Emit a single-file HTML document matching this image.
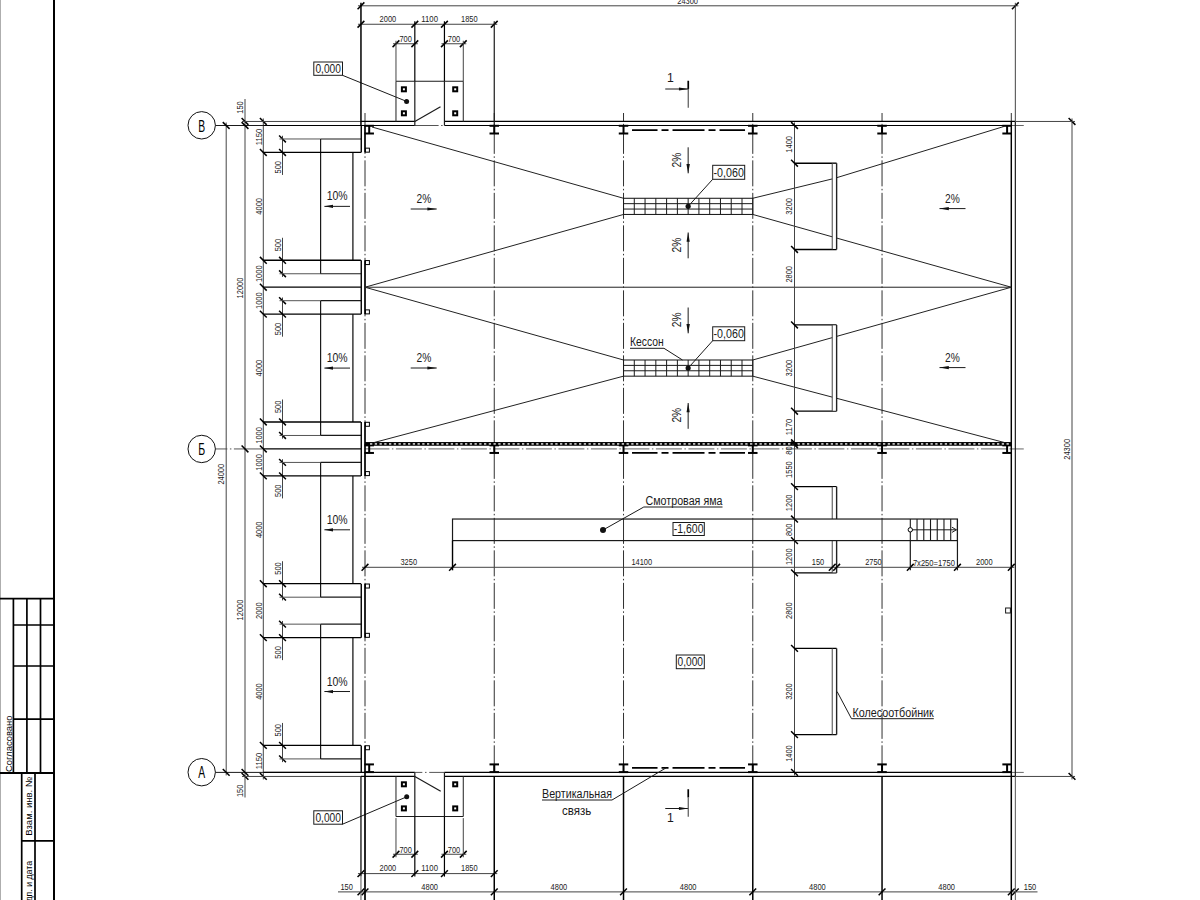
<!DOCTYPE html>
<html lang="ru">
<head>
<meta charset="utf-8">
<title>План</title>
<style>
html,body{margin:0;padding:0;background:#fff;}
body{width:1200px;height:900px;overflow:hidden;}
svg{display:block;font-family:"Liberation Sans",sans-serif;}
</style>
</head>
<body>
<svg width="1200" height="900" viewBox="0 0 1200 900">
<rect x="0" y="0" width="1200" height="900" fill="#fff"/>
<line x1="0" y1="0" x2="0" y2="900" stroke="#777" stroke-width="1.2"/>
<line x1="54" y1="0" x2="54" y2="900" stroke="#000" stroke-width="2"/>
<line x1="0" y1="598.6" x2="54" y2="598.6" stroke="#000" stroke-width="1.8"/>
<line x1="13.4" y1="598.6" x2="13.4" y2="773" stroke="#000" stroke-width="1.7"/>
<line x1="26.9" y1="598.6" x2="26.9" y2="773" stroke="#000" stroke-width="1.7"/>
<line x1="40.5" y1="598.6" x2="40.5" y2="773" stroke="#000" stroke-width="1.7"/>
<line x1="13.3" y1="625" x2="54" y2="625" stroke="#000" stroke-width="1.7"/>
<line x1="13.3" y1="666" x2="54" y2="666" stroke="#000" stroke-width="1.7"/>
<line x1="13.3" y1="719.2" x2="54" y2="719.2" stroke="#000" stroke-width="1.7"/>
<line x1="0" y1="773" x2="54" y2="773" stroke="#000" stroke-width="2"/>
<line x1="21.7" y1="773" x2="21.7" y2="900" stroke="#000" stroke-width="1.7"/>
<line x1="35" y1="773" x2="35" y2="900" stroke="#000" stroke-width="1.7"/>
<line x1="21.7" y1="840.8" x2="54" y2="840.8" stroke="#000" stroke-width="1.7"/>
<text x="11.6" y="772" font-size="8.9" text-anchor="start" fill="#000" transform="rotate(-90 11.6 772)" textLength="56.5" lengthAdjust="spacingAndGlyphs">Согласовано</text>
<text x="32.3" y="835.8" font-size="9" text-anchor="start" fill="#000" transform="rotate(-90 32.3 835.8)" textLength="58.7" lengthAdjust="spacingAndGlyphs">Взам. инв. №</text>
<text x="32.3" y="912.4" font-size="9" text-anchor="start" fill="#000" transform="rotate(-90 32.3 912.4)" textLength="51.4" lengthAdjust="spacingAndGlyphs">Подп. и дата</text>
<line x1="365" y1="113" x2="365" y2="125.5" stroke="#303030" stroke-width="1"/>
<line x1="365" y1="152.45" x2="365" y2="260.27" stroke="#303030" stroke-width="1" stroke-dasharray="26 2.5 1.5 2.5" stroke-dashoffset="24.6"/>
<line x1="365" y1="314.18" x2="365" y2="421.99" stroke="#303030" stroke-width="1" stroke-dasharray="26 2.5 1.5 2.5" stroke-dashoffset="23.83"/>
<line x1="365" y1="475.9" x2="365" y2="583.72" stroke="#303030" stroke-width="1" stroke-dasharray="26 2.5 1.5 2.5" stroke-dashoffset="23.05"/>
<line x1="365" y1="637.63" x2="365" y2="745.44" stroke="#303030" stroke-width="1" stroke-dasharray="26 2.5 1.5 2.5" stroke-dashoffset="22.28"/>
<line x1="494.26" y1="113" x2="494.26" y2="772.4" stroke="#303030" stroke-width="1" stroke-dasharray="26 2.5 1.5 2.5" stroke-dashoffset="17.65"/>
<line x1="623.52" y1="113" x2="623.52" y2="772.4" stroke="#303030" stroke-width="1" stroke-dasharray="26 2.5 1.5 2.5" stroke-dashoffset="17.65"/>
<line x1="752.78" y1="113" x2="752.78" y2="772.4" stroke="#303030" stroke-width="1" stroke-dasharray="26 2.5 1.5 2.5" stroke-dashoffset="17.65"/>
<line x1="882.04" y1="113" x2="882.04" y2="772.4" stroke="#303030" stroke-width="1" stroke-dasharray="26 2.5 1.5 2.5" stroke-dashoffset="17.65"/>
<line x1="1011.3" y1="113" x2="1011.3" y2="121.46" stroke="#303030" stroke-width="1"/>
<line x1="215.4" y1="448.95" x2="262" y2="448.95" stroke="#555" stroke-width="1" stroke-dasharray="12 2.5 1.5 2.5 40"/>
<line x1="365" y1="448.95" x2="1011.3" y2="448.95" stroke="#808080" stroke-width="1.25" stroke-dasharray="26 2.5 1.5 2.5" stroke-dashoffset="1.6"/>
<line x1="1011.3" y1="448.95" x2="1023.75" y2="448.95" stroke="#666" stroke-width="1"/>
<line x1="1011.3" y1="125.5" x2="1023.75" y2="125.5" stroke="#666" stroke-width="1"/>
<line x1="1011.3" y1="772.4" x2="1023.75" y2="772.4" stroke="#666" stroke-width="1"/>
<circle cx="201.7" cy="125.3" r="13.7" fill="#fff" stroke="#111" stroke-width="1"/>
<text x="201.7" y="131.5" font-size="17.3" text-anchor="middle" fill="#000" textLength="6.9" lengthAdjust="spacingAndGlyphs">В</text>
<circle cx="201.7" cy="448.95" r="13.7" fill="#fff" stroke="#111" stroke-width="1"/>
<text x="201.7" y="455.15" font-size="17.3" text-anchor="middle" fill="#000" textLength="6.9" lengthAdjust="spacingAndGlyphs">Б</text>
<circle cx="201.7" cy="772.2" r="13.7" fill="#fff" stroke="#111" stroke-width="1"/>
<text x="201.7" y="778.4" font-size="17.3" text-anchor="middle" fill="#000" textLength="6.9" lengthAdjust="spacingAndGlyphs">А</text>
<line x1="215.4" y1="125.5" x2="360.96" y2="125.5" stroke="#1a1a1a" stroke-width="1"/>
<line x1="215.4" y1="772.4" x2="360.96" y2="772.4" stroke="#1a1a1a" stroke-width="1"/>
<line x1="226.2" y1="122.5" x2="226.2" y2="775.4" stroke="#444" stroke-width="1"/>
<line x1="222.8" y1="122.1" x2="229.6" y2="128.9" stroke="#000" stroke-width="1.5"/>
<line x1="222.8" y1="769" x2="229.6" y2="775.8" stroke="#000" stroke-width="1.5"/>
<text x="224.5" y="474.2" font-size="9.4" text-anchor="middle" fill="#1a1a1a" transform="rotate(-90 224.5 474.2)" textLength="20.75" lengthAdjust="spacingAndGlyphs">24000</text>
<line x1="245" y1="99" x2="245" y2="797.5" stroke="#444" stroke-width="1"/>
<line x1="241.6" y1="118.06" x2="248.4" y2="124.86" stroke="#000" stroke-width="1.5"/>
<line x1="241.6" y1="122.1" x2="248.4" y2="128.9" stroke="#000" stroke-width="1.5"/>
<line x1="241.6" y1="445.55" x2="248.4" y2="452.35" stroke="#000" stroke-width="1.5"/>
<line x1="241.6" y1="769" x2="248.4" y2="775.8" stroke="#000" stroke-width="1.5"/>
<line x1="241.6" y1="773.04" x2="248.4" y2="779.84" stroke="#000" stroke-width="1.5"/>
<text x="243.3" y="288" font-size="9.4" text-anchor="middle" fill="#1a1a1a" transform="rotate(-90 243.3 288)" textLength="20.75" lengthAdjust="spacingAndGlyphs">12000</text>
<text x="243.3" y="610" font-size="9.4" text-anchor="middle" fill="#1a1a1a" transform="rotate(-90 243.3 610)" textLength="20.75" lengthAdjust="spacingAndGlyphs">12000</text>
<text x="243.3" y="107.5" font-size="9.4" text-anchor="middle" fill="#1a1a1a" transform="rotate(-90 243.3 107.5)" textLength="12.45" lengthAdjust="spacingAndGlyphs">150</text>
<text x="243.3" y="790.8" font-size="9.4" text-anchor="middle" fill="#1a1a1a" transform="rotate(-90 243.3 790.8)" textLength="12.45" lengthAdjust="spacingAndGlyphs">150</text>
<line x1="263.3" y1="118.46" x2="263.3" y2="779.44" stroke="#444" stroke-width="1"/>
<line x1="259.9" y1="118.06" x2="266.7" y2="124.86" stroke="#000" stroke-width="1.5"/>
<line x1="259.9" y1="149.05" x2="266.7" y2="155.85" stroke="#000" stroke-width="1.5"/>
<line x1="259.9" y1="256.87" x2="266.7" y2="263.67" stroke="#000" stroke-width="1.5"/>
<line x1="259.9" y1="283.82" x2="266.7" y2="290.62" stroke="#000" stroke-width="1.5"/>
<line x1="259.9" y1="310.78" x2="266.7" y2="317.58" stroke="#000" stroke-width="1.5"/>
<line x1="259.9" y1="418.59" x2="266.7" y2="425.39" stroke="#000" stroke-width="1.5"/>
<line x1="259.9" y1="445.55" x2="266.7" y2="452.35" stroke="#000" stroke-width="1.5"/>
<line x1="259.9" y1="472.5" x2="266.7" y2="479.3" stroke="#000" stroke-width="1.5"/>
<line x1="259.9" y1="580.32" x2="266.7" y2="587.12" stroke="#000" stroke-width="1.5"/>
<line x1="259.9" y1="634.23" x2="266.7" y2="641.03" stroke="#000" stroke-width="1.5"/>
<line x1="259.9" y1="742.04" x2="266.7" y2="748.84" stroke="#000" stroke-width="1.5"/>
<line x1="259.9" y1="773.04" x2="266.7" y2="779.84" stroke="#000" stroke-width="1.5"/>
<text x="261.6" y="136.96" font-size="9.4" text-anchor="middle" fill="#1a1a1a" transform="rotate(-90 261.6 136.96)" textLength="16.6" lengthAdjust="spacingAndGlyphs">1150</text>
<text x="261.6" y="206.36" font-size="9.4" text-anchor="middle" fill="#1a1a1a" transform="rotate(-90 261.6 206.36)" textLength="16.6" lengthAdjust="spacingAndGlyphs">4000</text>
<text x="261.6" y="273.75" font-size="9.4" text-anchor="middle" fill="#1a1a1a" transform="rotate(-90 261.6 273.75)" textLength="16.6" lengthAdjust="spacingAndGlyphs">1000</text>
<text x="261.6" y="300.7" font-size="9.4" text-anchor="middle" fill="#1a1a1a" transform="rotate(-90 261.6 300.7)" textLength="16.6" lengthAdjust="spacingAndGlyphs">1000</text>
<text x="261.6" y="368.09" font-size="9.4" text-anchor="middle" fill="#1a1a1a" transform="rotate(-90 261.6 368.09)" textLength="16.6" lengthAdjust="spacingAndGlyphs">4000</text>
<text x="261.6" y="435.47" font-size="9.4" text-anchor="middle" fill="#1a1a1a" transform="rotate(-90 261.6 435.47)" textLength="16.6" lengthAdjust="spacingAndGlyphs">1000</text>
<text x="261.6" y="462.42" font-size="9.4" text-anchor="middle" fill="#1a1a1a" transform="rotate(-90 261.6 462.42)" textLength="16.6" lengthAdjust="spacingAndGlyphs">1000</text>
<text x="261.6" y="529.81" font-size="9.4" text-anchor="middle" fill="#1a1a1a" transform="rotate(-90 261.6 529.81)" textLength="16.6" lengthAdjust="spacingAndGlyphs">4000</text>
<text x="261.6" y="610.67" font-size="9.4" text-anchor="middle" fill="#1a1a1a" transform="rotate(-90 261.6 610.67)" textLength="16.6" lengthAdjust="spacingAndGlyphs">2000</text>
<text x="261.6" y="691.53" font-size="9.4" text-anchor="middle" fill="#1a1a1a" transform="rotate(-90 261.6 691.53)" textLength="16.6" lengthAdjust="spacingAndGlyphs">4000</text>
<text x="261.6" y="760.94" font-size="9.4" text-anchor="middle" fill="#1a1a1a" transform="rotate(-90 261.6 760.94)" textLength="16.6" lengthAdjust="spacingAndGlyphs">1150</text>
<line x1="242" y1="121.46" x2="360.96" y2="121.46" stroke="#444" stroke-width="1"/>
<line x1="242" y1="776.44" x2="360.96" y2="776.44" stroke="#444" stroke-width="1"/>
<line x1="263.3" y1="125.5" x2="360.96" y2="125.5" stroke="#000" stroke-width="1.2"/>
<line x1="263.3" y1="772.4" x2="360.96" y2="772.4" stroke="#000" stroke-width="1.2"/>
<line x1="263.3" y1="448.95" x2="360.96" y2="448.95" stroke="#000" stroke-width="1.25"/>
<line x1="263.3" y1="287.22" x2="360.96" y2="287.22" stroke="#000" stroke-width="1.25"/>
<line x1="282.5" y1="135.78" x2="282.5" y2="174.95" stroke="#444" stroke-width="1"/>
<line x1="279.1" y1="135.58" x2="285.9" y2="142.38" stroke="#000" stroke-width="1.5"/>
<line x1="279.1" y1="149.05" x2="285.9" y2="155.85" stroke="#000" stroke-width="1.5"/>
<text x="280.8" y="167.25" font-size="9.4" text-anchor="middle" fill="#1a1a1a" transform="rotate(-90 280.8 167.25)" textLength="12.45" lengthAdjust="spacingAndGlyphs">500</text>
<line x1="282.5" y1="237.77" x2="282.5" y2="276.95" stroke="#444" stroke-width="1"/>
<line x1="279.1" y1="256.87" x2="285.9" y2="263.67" stroke="#000" stroke-width="1.5"/>
<line x1="279.1" y1="270.35" x2="285.9" y2="277.15" stroke="#000" stroke-width="1.5"/>
<text x="280.8" y="245.07" font-size="9.4" text-anchor="middle" fill="#1a1a1a" transform="rotate(-90 280.8 245.07)" textLength="12.45" lengthAdjust="spacingAndGlyphs">500</text>
<line x1="282.5" y1="297.5" x2="282.5" y2="336.68" stroke="#444" stroke-width="1"/>
<line x1="279.1" y1="297.3" x2="285.9" y2="304.1" stroke="#000" stroke-width="1.5"/>
<line x1="279.1" y1="310.78" x2="285.9" y2="317.58" stroke="#000" stroke-width="1.5"/>
<text x="280.8" y="328.98" font-size="9.4" text-anchor="middle" fill="#1a1a1a" transform="rotate(-90 280.8 328.98)" textLength="12.45" lengthAdjust="spacingAndGlyphs">500</text>
<line x1="282.5" y1="399.49" x2="282.5" y2="438.67" stroke="#444" stroke-width="1"/>
<line x1="279.1" y1="418.59" x2="285.9" y2="425.39" stroke="#000" stroke-width="1.5"/>
<line x1="279.1" y1="432.07" x2="285.9" y2="438.87" stroke="#000" stroke-width="1.5"/>
<text x="280.8" y="406.79" font-size="9.4" text-anchor="middle" fill="#1a1a1a" transform="rotate(-90 280.8 406.79)" textLength="12.45" lengthAdjust="spacingAndGlyphs">500</text>
<line x1="282.5" y1="459.23" x2="282.5" y2="498.4" stroke="#444" stroke-width="1"/>
<line x1="279.1" y1="459.03" x2="285.9" y2="465.82" stroke="#000" stroke-width="1.5"/>
<line x1="279.1" y1="472.5" x2="285.9" y2="479.3" stroke="#000" stroke-width="1.5"/>
<text x="280.8" y="490.7" font-size="9.4" text-anchor="middle" fill="#1a1a1a" transform="rotate(-90 280.8 490.7)" textLength="12.45" lengthAdjust="spacingAndGlyphs">500</text>
<line x1="282.5" y1="561.22" x2="282.5" y2="600.39" stroke="#444" stroke-width="1"/>
<line x1="279.1" y1="580.32" x2="285.9" y2="587.12" stroke="#000" stroke-width="1.5"/>
<line x1="279.1" y1="593.79" x2="285.9" y2="600.59" stroke="#000" stroke-width="1.5"/>
<text x="280.8" y="568.52" font-size="9.4" text-anchor="middle" fill="#1a1a1a" transform="rotate(-90 280.8 568.52)" textLength="12.45" lengthAdjust="spacingAndGlyphs">500</text>
<line x1="282.5" y1="620.95" x2="282.5" y2="660.13" stroke="#444" stroke-width="1"/>
<line x1="279.1" y1="620.75" x2="285.9" y2="627.55" stroke="#000" stroke-width="1.5"/>
<line x1="279.1" y1="634.23" x2="285.9" y2="641.03" stroke="#000" stroke-width="1.5"/>
<text x="280.8" y="652.43" font-size="9.4" text-anchor="middle" fill="#1a1a1a" transform="rotate(-90 280.8 652.43)" textLength="12.45" lengthAdjust="spacingAndGlyphs">500</text>
<line x1="282.5" y1="722.94" x2="282.5" y2="762.12" stroke="#444" stroke-width="1"/>
<line x1="279.1" y1="742.04" x2="285.9" y2="748.84" stroke="#000" stroke-width="1.5"/>
<line x1="279.1" y1="755.52" x2="285.9" y2="762.32" stroke="#000" stroke-width="1.5"/>
<text x="280.8" y="730.24" font-size="9.4" text-anchor="middle" fill="#1a1a1a" transform="rotate(-90 280.8 730.24)" textLength="12.45" lengthAdjust="spacingAndGlyphs">500</text>
<line x1="279.5" y1="138.98" x2="320.6" y2="138.98" stroke="#555" stroke-width="1"/>
<line x1="279.5" y1="273.75" x2="320.6" y2="273.75" stroke="#555" stroke-width="1"/>
<line x1="320.6" y1="138.98" x2="360.96" y2="138.98" stroke="#1a1a1a" stroke-width="1.2"/>
<line x1="320.6" y1="273.75" x2="360.96" y2="273.75" stroke="#1a1a1a" stroke-width="1.2"/>
<line x1="320.6" y1="138.98" x2="320.6" y2="273.75" stroke="#1a1a1a" stroke-width="1.2"/>
<line x1="352.9" y1="152.45" x2="352.9" y2="260.27" stroke="#1a1a1a" stroke-width="1.3"/>
<line x1="263.3" y1="152.45" x2="360.96" y2="152.45" stroke="#000" stroke-width="1.3"/>
<line x1="263.3" y1="260.27" x2="360.96" y2="260.27" stroke="#000" stroke-width="1.3"/>
<text x="337.2" y="200.36" font-size="12.7" text-anchor="middle" fill="#1a1a1a" textLength="21" lengthAdjust="spacingAndGlyphs">10%</text>
<line x1="324.4" y1="206.36" x2="350" y2="206.36" stroke="#1a1a1a" stroke-width="1"/>
<path d="M324.4 206.36 L333 204.76 L333 207.96 Z" fill="#111"/>
<line x1="279.5" y1="300.7" x2="320.6" y2="300.7" stroke="#555" stroke-width="1"/>
<line x1="279.5" y1="435.47" x2="320.6" y2="435.47" stroke="#555" stroke-width="1"/>
<line x1="320.6" y1="300.7" x2="360.96" y2="300.7" stroke="#1a1a1a" stroke-width="1.2"/>
<line x1="320.6" y1="435.47" x2="360.96" y2="435.47" stroke="#1a1a1a" stroke-width="1.2"/>
<line x1="320.6" y1="300.7" x2="320.6" y2="435.47" stroke="#1a1a1a" stroke-width="1.2"/>
<line x1="352.9" y1="314.18" x2="352.9" y2="421.99" stroke="#1a1a1a" stroke-width="1.3"/>
<line x1="263.3" y1="314.18" x2="360.96" y2="314.18" stroke="#000" stroke-width="1.3"/>
<line x1="263.3" y1="421.99" x2="360.96" y2="421.99" stroke="#000" stroke-width="1.3"/>
<text x="337.2" y="362.09" font-size="12.7" text-anchor="middle" fill="#1a1a1a" textLength="21" lengthAdjust="spacingAndGlyphs">10%</text>
<line x1="324.4" y1="368.09" x2="350" y2="368.09" stroke="#1a1a1a" stroke-width="1"/>
<path d="M324.4 368.09 L333 366.49 L333 369.69 Z" fill="#111"/>
<line x1="279.5" y1="462.43" x2="320.6" y2="462.43" stroke="#555" stroke-width="1"/>
<line x1="279.5" y1="597.19" x2="320.6" y2="597.19" stroke="#555" stroke-width="1"/>
<line x1="320.6" y1="462.43" x2="360.96" y2="462.43" stroke="#1a1a1a" stroke-width="1.2"/>
<line x1="320.6" y1="597.19" x2="360.96" y2="597.19" stroke="#1a1a1a" stroke-width="1.2"/>
<line x1="320.6" y1="462.43" x2="320.6" y2="597.19" stroke="#1a1a1a" stroke-width="1.2"/>
<line x1="352.9" y1="475.9" x2="352.9" y2="583.72" stroke="#1a1a1a" stroke-width="1.3"/>
<line x1="263.3" y1="475.9" x2="360.96" y2="475.9" stroke="#000" stroke-width="1.3"/>
<line x1="263.3" y1="583.72" x2="360.96" y2="583.72" stroke="#000" stroke-width="1.3"/>
<text x="337.2" y="523.81" font-size="12.7" text-anchor="middle" fill="#1a1a1a" textLength="21" lengthAdjust="spacingAndGlyphs">10%</text>
<line x1="324.4" y1="529.81" x2="350" y2="529.81" stroke="#1a1a1a" stroke-width="1"/>
<path d="M324.4 529.81 L333 528.21 L333 531.41 Z" fill="#111"/>
<line x1="279.5" y1="624.15" x2="320.6" y2="624.15" stroke="#555" stroke-width="1"/>
<line x1="279.5" y1="758.92" x2="320.6" y2="758.92" stroke="#555" stroke-width="1"/>
<line x1="320.6" y1="624.15" x2="360.96" y2="624.15" stroke="#1a1a1a" stroke-width="1.2"/>
<line x1="320.6" y1="758.92" x2="360.96" y2="758.92" stroke="#1a1a1a" stroke-width="1.2"/>
<line x1="320.6" y1="624.15" x2="320.6" y2="758.92" stroke="#1a1a1a" stroke-width="1.2"/>
<line x1="352.9" y1="637.63" x2="352.9" y2="745.44" stroke="#1a1a1a" stroke-width="1.3"/>
<line x1="263.3" y1="637.63" x2="360.96" y2="637.63" stroke="#000" stroke-width="1.3"/>
<line x1="263.3" y1="745.44" x2="360.96" y2="745.44" stroke="#000" stroke-width="1.3"/>
<text x="337.2" y="685.53" font-size="12.7" text-anchor="middle" fill="#1a1a1a" textLength="21" lengthAdjust="spacingAndGlyphs">10%</text>
<line x1="324.4" y1="691.53" x2="350" y2="691.53" stroke="#1a1a1a" stroke-width="1"/>
<path d="M324.4 691.53 L333 689.93 L333 693.13 Z" fill="#111"/>
<line x1="361.26" y1="125.5" x2="361.26" y2="152.45" stroke="#000" stroke-width="1.4"/>
<line x1="365" y1="125.5" x2="365" y2="152.45" stroke="#000" stroke-width="1.7"/>
<line x1="361.26" y1="260.27" x2="361.26" y2="314.18" stroke="#000" stroke-width="1.4"/>
<line x1="365" y1="260.27" x2="365" y2="314.18" stroke="#000" stroke-width="1.7"/>
<line x1="361.26" y1="421.99" x2="361.26" y2="475.9" stroke="#000" stroke-width="1.4"/>
<line x1="365" y1="421.99" x2="365" y2="475.9" stroke="#000" stroke-width="1.7"/>
<line x1="361.26" y1="583.72" x2="361.26" y2="637.63" stroke="#000" stroke-width="1.4"/>
<line x1="365" y1="583.72" x2="365" y2="637.63" stroke="#000" stroke-width="1.7"/>
<line x1="361.26" y1="745.44" x2="361.26" y2="772.4" stroke="#000" stroke-width="1.4"/>
<line x1="365" y1="745.44" x2="365" y2="772.4" stroke="#000" stroke-width="1.7"/>
<rect x="365.4" y="148.15" width="4" height="4" fill="none" stroke="#000" stroke-width="1"/>
<rect x="365.4" y="260.57" width="4" height="4" fill="none" stroke="#000" stroke-width="1"/>
<rect x="365.4" y="309.88" width="4" height="4" fill="none" stroke="#000" stroke-width="1"/>
<rect x="365.4" y="422.29" width="4" height="4" fill="none" stroke="#000" stroke-width="1"/>
<rect x="365.4" y="471.6" width="4" height="4" fill="none" stroke="#000" stroke-width="1"/>
<rect x="365.4" y="584.02" width="4" height="4" fill="none" stroke="#000" stroke-width="1"/>
<rect x="365.4" y="633.33" width="4" height="4" fill="none" stroke="#000" stroke-width="1"/>
<rect x="365.4" y="745.74" width="4" height="4" fill="none" stroke="#000" stroke-width="1"/>
<line x1="360.96" y1="121.46" x2="414.82" y2="121.46" stroke="#000" stroke-width="1.2"/>
<line x1="444.44" y1="121.46" x2="1015.34" y2="121.46" stroke="#000" stroke-width="1.2"/>
<line x1="360.96" y1="125.5" x2="414.82" y2="125.5" stroke="#000" stroke-width="1.2"/>
<line x1="444.44" y1="125.5" x2="1011.3" y2="125.5" stroke="#000" stroke-width="1.2"/>
<line x1="414.82" y1="125.5" x2="444.44" y2="125.5" stroke="#555" stroke-width="1" stroke-dasharray="23.8 2.5 1.5 2.5"/>
<line x1="360.96" y1="776.44" x2="414.82" y2="776.44" stroke="#000" stroke-width="1.2"/>
<line x1="444.44" y1="776.44" x2="1015.34" y2="776.44" stroke="#000" stroke-width="1.2"/>
<line x1="360.96" y1="772.4" x2="414.82" y2="772.4" stroke="#000" stroke-width="1.2"/>
<line x1="444.44" y1="772.4" x2="1011.3" y2="772.4" stroke="#000" stroke-width="1.2"/>
<line x1="414.82" y1="772.4" x2="444.44" y2="772.4" stroke="#555" stroke-width="1" stroke-dasharray="7.5 2.7 1.5 2.7 30"/>
<line x1="1011.3" y1="121.46" x2="1011.3" y2="776.44" stroke="#000" stroke-width="1.45"/>
<line x1="1015.34" y1="121.46" x2="1015.34" y2="776.44" stroke="#1a1a1a" stroke-width="1.2"/>
<rect x="1005.6" y="608" width="4.8" height="5" fill="none" stroke="#1a1a1a" stroke-width="1"/>
<line x1="364.45" y1="125.8" x2="373.95" y2="125.8" stroke="#000" stroke-width="2"/>
<line x1="364.45" y1="133.5" x2="373.95" y2="133.5" stroke="#000" stroke-width="2"/>
<line x1="369.2" y1="125.8" x2="369.2" y2="133.5" stroke="#000" stroke-width="2"/>
<line x1="364.45" y1="445.35" x2="373.95" y2="445.35" stroke="#000" stroke-width="2"/>
<line x1="364.45" y1="452.95" x2="373.95" y2="452.95" stroke="#000" stroke-width="2"/>
<line x1="369.2" y1="445.35" x2="369.2" y2="452.95" stroke="#000" stroke-width="2"/>
<line x1="364.45" y1="764.4" x2="373.95" y2="764.4" stroke="#000" stroke-width="2"/>
<line x1="364.45" y1="772.1" x2="373.95" y2="772.1" stroke="#000" stroke-width="2"/>
<line x1="369.2" y1="764.4" x2="369.2" y2="772.1" stroke="#000" stroke-width="2"/>
<line x1="489.51" y1="125.8" x2="499.01" y2="125.8" stroke="#000" stroke-width="2"/>
<line x1="489.51" y1="133.5" x2="499.01" y2="133.5" stroke="#000" stroke-width="2"/>
<line x1="494.26" y1="125.8" x2="494.26" y2="133.5" stroke="#000" stroke-width="2"/>
<line x1="489.51" y1="445.35" x2="499.01" y2="445.35" stroke="#000" stroke-width="2"/>
<line x1="489.51" y1="452.95" x2="499.01" y2="452.95" stroke="#000" stroke-width="2"/>
<line x1="494.26" y1="445.35" x2="494.26" y2="452.95" stroke="#000" stroke-width="2"/>
<line x1="489.51" y1="764.4" x2="499.01" y2="764.4" stroke="#000" stroke-width="2"/>
<line x1="489.51" y1="772.1" x2="499.01" y2="772.1" stroke="#000" stroke-width="2"/>
<line x1="494.26" y1="764.4" x2="494.26" y2="772.1" stroke="#000" stroke-width="2"/>
<line x1="618.77" y1="125.8" x2="628.27" y2="125.8" stroke="#000" stroke-width="2"/>
<line x1="618.77" y1="133.5" x2="628.27" y2="133.5" stroke="#000" stroke-width="2"/>
<line x1="623.52" y1="125.8" x2="623.52" y2="133.5" stroke="#000" stroke-width="2"/>
<line x1="618.77" y1="445.35" x2="628.27" y2="445.35" stroke="#000" stroke-width="2"/>
<line x1="618.77" y1="452.95" x2="628.27" y2="452.95" stroke="#000" stroke-width="2"/>
<line x1="623.52" y1="445.35" x2="623.52" y2="452.95" stroke="#000" stroke-width="2"/>
<line x1="618.77" y1="764.4" x2="628.27" y2="764.4" stroke="#000" stroke-width="2"/>
<line x1="618.77" y1="772.1" x2="628.27" y2="772.1" stroke="#000" stroke-width="2"/>
<line x1="623.52" y1="764.4" x2="623.52" y2="772.1" stroke="#000" stroke-width="2"/>
<line x1="748.03" y1="125.8" x2="757.53" y2="125.8" stroke="#000" stroke-width="2"/>
<line x1="748.03" y1="133.5" x2="757.53" y2="133.5" stroke="#000" stroke-width="2"/>
<line x1="752.78" y1="125.8" x2="752.78" y2="133.5" stroke="#000" stroke-width="2"/>
<line x1="748.03" y1="445.35" x2="757.53" y2="445.35" stroke="#000" stroke-width="2"/>
<line x1="748.03" y1="452.95" x2="757.53" y2="452.95" stroke="#000" stroke-width="2"/>
<line x1="752.78" y1="445.35" x2="752.78" y2="452.95" stroke="#000" stroke-width="2"/>
<line x1="748.03" y1="764.4" x2="757.53" y2="764.4" stroke="#000" stroke-width="2"/>
<line x1="748.03" y1="772.1" x2="757.53" y2="772.1" stroke="#000" stroke-width="2"/>
<line x1="752.78" y1="764.4" x2="752.78" y2="772.1" stroke="#000" stroke-width="2"/>
<line x1="877.29" y1="125.8" x2="886.79" y2="125.8" stroke="#000" stroke-width="2"/>
<line x1="877.29" y1="133.5" x2="886.79" y2="133.5" stroke="#000" stroke-width="2"/>
<line x1="882.04" y1="125.8" x2="882.04" y2="133.5" stroke="#000" stroke-width="2"/>
<line x1="877.29" y1="445.35" x2="886.79" y2="445.35" stroke="#000" stroke-width="2"/>
<line x1="877.29" y1="452.95" x2="886.79" y2="452.95" stroke="#000" stroke-width="2"/>
<line x1="882.04" y1="445.35" x2="882.04" y2="452.95" stroke="#000" stroke-width="2"/>
<line x1="877.29" y1="764.4" x2="886.79" y2="764.4" stroke="#000" stroke-width="2"/>
<line x1="877.29" y1="772.1" x2="886.79" y2="772.1" stroke="#000" stroke-width="2"/>
<line x1="882.04" y1="764.4" x2="882.04" y2="772.1" stroke="#000" stroke-width="2"/>
<line x1="1002.35" y1="125.8" x2="1011.85" y2="125.8" stroke="#000" stroke-width="2"/>
<line x1="1002.35" y1="133.5" x2="1011.85" y2="133.5" stroke="#000" stroke-width="2"/>
<line x1="1007.1" y1="125.8" x2="1007.1" y2="133.5" stroke="#000" stroke-width="2"/>
<line x1="1002.35" y1="445.35" x2="1011.85" y2="445.35" stroke="#000" stroke-width="2"/>
<line x1="1002.35" y1="452.95" x2="1011.85" y2="452.95" stroke="#000" stroke-width="2"/>
<line x1="1007.1" y1="445.35" x2="1007.1" y2="452.95" stroke="#000" stroke-width="2"/>
<line x1="1002.35" y1="764.4" x2="1011.85" y2="764.4" stroke="#000" stroke-width="2"/>
<line x1="1002.35" y1="772.1" x2="1011.85" y2="772.1" stroke="#000" stroke-width="2"/>
<line x1="1007.1" y1="764.4" x2="1007.1" y2="772.1" stroke="#000" stroke-width="2"/>
<line x1="632.02" y1="130.2" x2="745.03" y2="130.2" stroke="#000" stroke-width="1.8" stroke-dasharray="32 4 7 4" stroke-dashoffset="6.5"/>
<line x1="632.02" y1="452.85" x2="745.03" y2="452.85" stroke="#000" stroke-width="1.8" stroke-dasharray="32 4 7 4" stroke-dashoffset="6.5"/>
<line x1="632.02" y1="767.9" x2="745.03" y2="767.9" stroke="#000" stroke-width="1.8" stroke-dasharray="32 4 7 4" stroke-dashoffset="6.5"/>
<rect x="365" y="442.05" width="646.3" height="3.7" fill="#000" stroke="none" stroke-width="0"/>
<rect x="370" y="443.05" width="2.3" height="1.7" fill="#c4c4c4"/>
<rect x="374.75" y="443.05" width="2.3" height="1.7" fill="#c4c4c4"/>
<rect x="379.5" y="443.05" width="2.3" height="1.7" fill="#c4c4c4"/>
<rect x="384.25" y="443.05" width="2.3" height="1.7" fill="#c4c4c4"/>
<rect x="389" y="443.05" width="2.3" height="1.7" fill="#c4c4c4"/>
<rect x="393.75" y="443.05" width="2.3" height="1.7" fill="#c4c4c4"/>
<rect x="398.5" y="443.05" width="2.3" height="1.7" fill="#c4c4c4"/>
<rect x="403.25" y="443.05" width="2.3" height="1.7" fill="#c4c4c4"/>
<rect x="408" y="443.05" width="2.3" height="1.7" fill="#c4c4c4"/>
<rect x="412.75" y="443.05" width="2.3" height="1.7" fill="#c4c4c4"/>
<rect x="417.5" y="443.05" width="2.3" height="1.7" fill="#c4c4c4"/>
<rect x="422.25" y="443.05" width="2.3" height="1.7" fill="#c4c4c4"/>
<rect x="427" y="443.05" width="2.3" height="1.7" fill="#c4c4c4"/>
<rect x="431.75" y="443.05" width="2.3" height="1.7" fill="#c4c4c4"/>
<rect x="436.5" y="443.05" width="2.3" height="1.7" fill="#c4c4c4"/>
<rect x="441.25" y="443.05" width="2.3" height="1.7" fill="#c4c4c4"/>
<rect x="446" y="443.05" width="2.3" height="1.7" fill="#c4c4c4"/>
<rect x="450.75" y="443.05" width="2.3" height="1.7" fill="#c4c4c4"/>
<rect x="455.5" y="443.05" width="2.3" height="1.7" fill="#c4c4c4"/>
<rect x="460.25" y="443.05" width="2.3" height="1.7" fill="#c4c4c4"/>
<rect x="465" y="443.05" width="2.3" height="1.7" fill="#c4c4c4"/>
<rect x="469.75" y="443.05" width="2.3" height="1.7" fill="#c4c4c4"/>
<rect x="474.5" y="443.05" width="2.3" height="1.7" fill="#c4c4c4"/>
<rect x="479.25" y="443.05" width="2.3" height="1.7" fill="#c4c4c4"/>
<rect x="484" y="443.05" width="2.3" height="1.7" fill="#c4c4c4"/>
<rect x="488.75" y="443.05" width="2.3" height="1.7" fill="#c4c4c4"/>
<rect x="493.5" y="443.05" width="2.3" height="1.7" fill="#c4c4c4"/>
<rect x="498.25" y="443.05" width="2.3" height="1.7" fill="#c4c4c4"/>
<rect x="503" y="443.05" width="2.3" height="1.7" fill="#c4c4c4"/>
<rect x="507.75" y="443.05" width="2.3" height="1.7" fill="#c4c4c4"/>
<rect x="512.5" y="443.05" width="2.3" height="1.7" fill="#c4c4c4"/>
<rect x="517.25" y="443.05" width="2.3" height="1.7" fill="#c4c4c4"/>
<rect x="522" y="443.05" width="2.3" height="1.7" fill="#c4c4c4"/>
<rect x="526.75" y="443.05" width="2.3" height="1.7" fill="#c4c4c4"/>
<rect x="531.5" y="443.05" width="2.3" height="1.7" fill="#c4c4c4"/>
<rect x="536.25" y="443.05" width="2.3" height="1.7" fill="#c4c4c4"/>
<rect x="541" y="443.05" width="2.3" height="1.7" fill="#c4c4c4"/>
<rect x="545.75" y="443.05" width="2.3" height="1.7" fill="#c4c4c4"/>
<rect x="550.5" y="443.05" width="2.3" height="1.7" fill="#c4c4c4"/>
<rect x="555.25" y="443.05" width="2.3" height="1.7" fill="#c4c4c4"/>
<rect x="560" y="443.05" width="2.3" height="1.7" fill="#c4c4c4"/>
<rect x="564.75" y="443.05" width="2.3" height="1.7" fill="#c4c4c4"/>
<rect x="569.5" y="443.05" width="2.3" height="1.7" fill="#c4c4c4"/>
<rect x="574.25" y="443.05" width="2.3" height="1.7" fill="#c4c4c4"/>
<rect x="579" y="443.05" width="2.3" height="1.7" fill="#c4c4c4"/>
<rect x="583.75" y="443.05" width="2.3" height="1.7" fill="#c4c4c4"/>
<rect x="588.5" y="443.05" width="2.3" height="1.7" fill="#c4c4c4"/>
<rect x="593.25" y="443.05" width="2.3" height="1.7" fill="#c4c4c4"/>
<rect x="598" y="443.05" width="2.3" height="1.7" fill="#c4c4c4"/>
<rect x="602.75" y="443.05" width="2.3" height="1.7" fill="#c4c4c4"/>
<rect x="607.5" y="443.05" width="2.3" height="1.7" fill="#c4c4c4"/>
<rect x="612.25" y="443.05" width="2.3" height="1.7" fill="#c4c4c4"/>
<rect x="617" y="443.05" width="2.3" height="1.7" fill="#c4c4c4"/>
<rect x="621.75" y="443.05" width="2.3" height="1.7" fill="#c4c4c4"/>
<rect x="626.5" y="443.05" width="2.3" height="1.7" fill="#c4c4c4"/>
<rect x="631.25" y="443.05" width="2.3" height="1.7" fill="#c4c4c4"/>
<rect x="636" y="443.05" width="2.3" height="1.7" fill="#c4c4c4"/>
<rect x="640.75" y="443.05" width="2.3" height="1.7" fill="#c4c4c4"/>
<rect x="645.5" y="443.05" width="2.3" height="1.7" fill="#c4c4c4"/>
<rect x="650.25" y="443.05" width="2.3" height="1.7" fill="#c4c4c4"/>
<rect x="655" y="443.05" width="2.3" height="1.7" fill="#c4c4c4"/>
<rect x="659.75" y="443.05" width="2.3" height="1.7" fill="#c4c4c4"/>
<rect x="664.5" y="443.05" width="2.3" height="1.7" fill="#c4c4c4"/>
<rect x="669.25" y="443.05" width="2.3" height="1.7" fill="#c4c4c4"/>
<rect x="674" y="443.05" width="2.3" height="1.7" fill="#c4c4c4"/>
<rect x="678.75" y="443.05" width="2.3" height="1.7" fill="#c4c4c4"/>
<rect x="683.5" y="443.05" width="2.3" height="1.7" fill="#c4c4c4"/>
<rect x="688.25" y="443.05" width="2.3" height="1.7" fill="#c4c4c4"/>
<rect x="693" y="443.05" width="2.3" height="1.7" fill="#c4c4c4"/>
<rect x="697.75" y="443.05" width="2.3" height="1.7" fill="#c4c4c4"/>
<rect x="702.5" y="443.05" width="2.3" height="1.7" fill="#c4c4c4"/>
<rect x="707.25" y="443.05" width="2.3" height="1.7" fill="#c4c4c4"/>
<rect x="712" y="443.05" width="2.3" height="1.7" fill="#c4c4c4"/>
<rect x="716.75" y="443.05" width="2.3" height="1.7" fill="#c4c4c4"/>
<rect x="721.5" y="443.05" width="2.3" height="1.7" fill="#c4c4c4"/>
<rect x="726.25" y="443.05" width="2.3" height="1.7" fill="#c4c4c4"/>
<rect x="731" y="443.05" width="2.3" height="1.7" fill="#c4c4c4"/>
<rect x="735.75" y="443.05" width="2.3" height="1.7" fill="#c4c4c4"/>
<rect x="740.5" y="443.05" width="2.3" height="1.7" fill="#c4c4c4"/>
<rect x="745.25" y="443.05" width="2.3" height="1.7" fill="#c4c4c4"/>
<rect x="750" y="443.05" width="2.3" height="1.7" fill="#c4c4c4"/>
<rect x="754.75" y="443.05" width="2.3" height="1.7" fill="#c4c4c4"/>
<rect x="759.5" y="443.05" width="2.3" height="1.7" fill="#c4c4c4"/>
<rect x="764.25" y="443.05" width="2.3" height="1.7" fill="#c4c4c4"/>
<rect x="769" y="443.05" width="2.3" height="1.7" fill="#c4c4c4"/>
<rect x="773.75" y="443.05" width="2.3" height="1.7" fill="#c4c4c4"/>
<rect x="778.5" y="443.05" width="2.3" height="1.7" fill="#c4c4c4"/>
<rect x="783.25" y="443.05" width="2.3" height="1.7" fill="#c4c4c4"/>
<rect x="788" y="443.05" width="2.3" height="1.7" fill="#c4c4c4"/>
<rect x="792.75" y="443.05" width="2.3" height="1.7" fill="#c4c4c4"/>
<rect x="797.5" y="443.05" width="2.3" height="1.7" fill="#c4c4c4"/>
<rect x="802.25" y="443.05" width="2.3" height="1.7" fill="#c4c4c4"/>
<rect x="807" y="443.05" width="2.3" height="1.7" fill="#c4c4c4"/>
<rect x="811.75" y="443.05" width="2.3" height="1.7" fill="#c4c4c4"/>
<rect x="816.5" y="443.05" width="2.3" height="1.7" fill="#c4c4c4"/>
<rect x="821.25" y="443.05" width="2.3" height="1.7" fill="#c4c4c4"/>
<rect x="826" y="443.05" width="2.3" height="1.7" fill="#c4c4c4"/>
<rect x="830.75" y="443.05" width="2.3" height="1.7" fill="#c4c4c4"/>
<rect x="835.5" y="443.05" width="2.3" height="1.7" fill="#c4c4c4"/>
<rect x="840.25" y="443.05" width="2.3" height="1.7" fill="#c4c4c4"/>
<rect x="845" y="443.05" width="2.3" height="1.7" fill="#c4c4c4"/>
<rect x="849.75" y="443.05" width="2.3" height="1.7" fill="#c4c4c4"/>
<rect x="854.5" y="443.05" width="2.3" height="1.7" fill="#c4c4c4"/>
<rect x="859.25" y="443.05" width="2.3" height="1.7" fill="#c4c4c4"/>
<rect x="864" y="443.05" width="2.3" height="1.7" fill="#c4c4c4"/>
<rect x="868.75" y="443.05" width="2.3" height="1.7" fill="#c4c4c4"/>
<rect x="873.5" y="443.05" width="2.3" height="1.7" fill="#c4c4c4"/>
<rect x="878.25" y="443.05" width="2.3" height="1.7" fill="#c4c4c4"/>
<rect x="883" y="443.05" width="2.3" height="1.7" fill="#c4c4c4"/>
<rect x="887.75" y="443.05" width="2.3" height="1.7" fill="#c4c4c4"/>
<rect x="892.5" y="443.05" width="2.3" height="1.7" fill="#c4c4c4"/>
<rect x="897.25" y="443.05" width="2.3" height="1.7" fill="#c4c4c4"/>
<rect x="902" y="443.05" width="2.3" height="1.7" fill="#c4c4c4"/>
<rect x="906.75" y="443.05" width="2.3" height="1.7" fill="#c4c4c4"/>
<rect x="911.5" y="443.05" width="2.3" height="1.7" fill="#c4c4c4"/>
<rect x="916.25" y="443.05" width="2.3" height="1.7" fill="#c4c4c4"/>
<rect x="921" y="443.05" width="2.3" height="1.7" fill="#c4c4c4"/>
<rect x="925.75" y="443.05" width="2.3" height="1.7" fill="#c4c4c4"/>
<rect x="930.5" y="443.05" width="2.3" height="1.7" fill="#c4c4c4"/>
<rect x="935.25" y="443.05" width="2.3" height="1.7" fill="#c4c4c4"/>
<rect x="940" y="443.05" width="2.3" height="1.7" fill="#c4c4c4"/>
<rect x="944.75" y="443.05" width="2.3" height="1.7" fill="#c4c4c4"/>
<rect x="949.5" y="443.05" width="2.3" height="1.7" fill="#c4c4c4"/>
<rect x="954.25" y="443.05" width="2.3" height="1.7" fill="#c4c4c4"/>
<rect x="959" y="443.05" width="2.3" height="1.7" fill="#c4c4c4"/>
<rect x="963.75" y="443.05" width="2.3" height="1.7" fill="#c4c4c4"/>
<rect x="968.5" y="443.05" width="2.3" height="1.7" fill="#c4c4c4"/>
<rect x="973.25" y="443.05" width="2.3" height="1.7" fill="#c4c4c4"/>
<rect x="978" y="443.05" width="2.3" height="1.7" fill="#c4c4c4"/>
<rect x="982.75" y="443.05" width="2.3" height="1.7" fill="#c4c4c4"/>
<rect x="987.5" y="443.05" width="2.3" height="1.7" fill="#c4c4c4"/>
<rect x="992.25" y="443.05" width="2.3" height="1.7" fill="#c4c4c4"/>
<rect x="997" y="443.05" width="2.3" height="1.7" fill="#c4c4c4"/>
<rect x="1001.75" y="443.05" width="2.3" height="1.7" fill="#c4c4c4"/>
<rect x="1006.5" y="443.05" width="2.3" height="1.7" fill="#c4c4c4"/>
<line x1="372" y1="127" x2="623.52" y2="198.28" stroke="#222" stroke-width="1"/>
<line x1="365" y1="287.22" x2="623.52" y2="214.45" stroke="#222" stroke-width="1"/>
<line x1="365" y1="287.22" x2="623.52" y2="360" stroke="#222" stroke-width="1"/>
<line x1="374" y1="442.55" x2="623.52" y2="376.17" stroke="#222" stroke-width="1"/>
<line x1="752.78" y1="198.28" x2="834.4" y2="178.4" stroke="#222" stroke-width="1"/>
<line x1="834.4" y1="178.4" x2="1004.5" y2="126.3" stroke="#222" stroke-width="1"/>
<line x1="752.78" y1="214.45" x2="1011.3" y2="287.22" stroke="#222" stroke-width="1"/>
<line x1="752.78" y1="360" x2="1011.3" y2="287.22" stroke="#222" stroke-width="1"/>
<line x1="752.78" y1="376.17" x2="1004.5" y2="442.55" stroke="#222" stroke-width="1"/>
<line x1="365" y1="287.22" x2="1011.3" y2="287.22" stroke="#222" stroke-width="1"/>
<rect x="623.52" y="198.28" width="129.26" height="16.17" fill="none" stroke="#1a1a1a" stroke-width="1.05"/>
<line x1="623.52" y1="203.67" x2="752.78" y2="203.67" stroke="#1a1a1a" stroke-width="1"/>
<line x1="623.52" y1="209.06" x2="752.78" y2="209.06" stroke="#1a1a1a" stroke-width="1"/>
<line x1="634.29" y1="198.28" x2="634.29" y2="214.45" stroke="#1a1a1a" stroke-width="1"/>
<line x1="645.06" y1="198.28" x2="645.06" y2="214.45" stroke="#1a1a1a" stroke-width="1"/>
<line x1="655.83" y1="198.28" x2="655.83" y2="214.45" stroke="#1a1a1a" stroke-width="1"/>
<line x1="666.6" y1="198.28" x2="666.6" y2="214.45" stroke="#1a1a1a" stroke-width="1"/>
<line x1="677.38" y1="198.28" x2="677.38" y2="214.45" stroke="#1a1a1a" stroke-width="1"/>
<line x1="688.15" y1="198.28" x2="688.15" y2="214.45" stroke="#1a1a1a" stroke-width="1"/>
<line x1="698.92" y1="198.28" x2="698.92" y2="214.45" stroke="#1a1a1a" stroke-width="1"/>
<line x1="709.69" y1="198.28" x2="709.69" y2="214.45" stroke="#1a1a1a" stroke-width="1"/>
<line x1="720.46" y1="198.28" x2="720.46" y2="214.45" stroke="#1a1a1a" stroke-width="1"/>
<line x1="731.23" y1="198.28" x2="731.23" y2="214.45" stroke="#1a1a1a" stroke-width="1"/>
<line x1="742.01" y1="198.28" x2="742.01" y2="214.45" stroke="#1a1a1a" stroke-width="1"/>
<rect x="623.52" y="360" width="129.26" height="16.17" fill="none" stroke="#1a1a1a" stroke-width="1.05"/>
<line x1="623.52" y1="365.39" x2="752.78" y2="365.39" stroke="#1a1a1a" stroke-width="1"/>
<line x1="623.52" y1="370.78" x2="752.78" y2="370.78" stroke="#1a1a1a" stroke-width="1"/>
<line x1="634.29" y1="360" x2="634.29" y2="376.17" stroke="#1a1a1a" stroke-width="1"/>
<line x1="645.06" y1="360" x2="645.06" y2="376.17" stroke="#1a1a1a" stroke-width="1"/>
<line x1="655.83" y1="360" x2="655.83" y2="376.17" stroke="#1a1a1a" stroke-width="1"/>
<line x1="666.6" y1="360" x2="666.6" y2="376.17" stroke="#1a1a1a" stroke-width="1"/>
<line x1="677.38" y1="360" x2="677.38" y2="376.17" stroke="#1a1a1a" stroke-width="1"/>
<line x1="688.15" y1="360" x2="688.15" y2="376.17" stroke="#1a1a1a" stroke-width="1"/>
<line x1="698.92" y1="360" x2="698.92" y2="376.17" stroke="#1a1a1a" stroke-width="1"/>
<line x1="709.69" y1="360" x2="709.69" y2="376.17" stroke="#1a1a1a" stroke-width="1"/>
<line x1="720.46" y1="360" x2="720.46" y2="376.17" stroke="#1a1a1a" stroke-width="1"/>
<line x1="731.23" y1="360" x2="731.23" y2="376.17" stroke="#1a1a1a" stroke-width="1"/>
<line x1="742.01" y1="360" x2="742.01" y2="376.17" stroke="#1a1a1a" stroke-width="1"/>
<line x1="712.7" y1="179.3" x2="688.15" y2="206.36" stroke="#1a1a1a" stroke-width="1"/>
<circle cx="688.15" cy="206.36" r="2.6" fill="#111" stroke="none" stroke-width="0"/>
<rect x="712.7" y="165.3" width="32" height="14" fill="#fff" stroke="#1a1a1a" stroke-width="1"/>
<text x="728.7" y="177" font-size="13" text-anchor="middle" fill="#1a1a1a" textLength="30.3" lengthAdjust="spacingAndGlyphs">-0,060</text>
<line x1="712.7" y1="340.7" x2="688.15" y2="368.09" stroke="#1a1a1a" stroke-width="1"/>
<circle cx="688.15" cy="368.09" r="2.6" fill="#111" stroke="none" stroke-width="0"/>
<rect x="712.7" y="326.8" width="32" height="13.9" fill="#fff" stroke="#1a1a1a" stroke-width="1"/>
<text x="728.7" y="338.4" font-size="13" text-anchor="middle" fill="#1a1a1a" textLength="30.3" lengthAdjust="spacingAndGlyphs">-0,060</text>
<text x="681.4" y="160" font-size="12.7" text-anchor="middle" fill="#1a1a1a" transform="rotate(-90 681.4 160)" textLength="14.8" lengthAdjust="spacingAndGlyphs">2%</text>
<line x1="688.15" y1="147.3" x2="688.15" y2="173.3" stroke="#1a1a1a" stroke-width="1"/>
<path d="M688.15 173.3 L686.45 164 L689.85 164 Z" fill="#111"/>
<text x="681.4" y="245" font-size="12.7" text-anchor="middle" fill="#1a1a1a" transform="rotate(-90 681.4 245)" textLength="14.8" lengthAdjust="spacingAndGlyphs">2%</text>
<line x1="688.15" y1="232.5" x2="688.15" y2="258.3" stroke="#1a1a1a" stroke-width="1"/>
<path d="M688.15 232.5 L686.55 241.8 L689.75 241.8 Z" fill="#111"/>
<text x="681.4" y="319.8" font-size="12.7" text-anchor="middle" fill="#1a1a1a" transform="rotate(-90 681.4 319.8)" textLength="14.8" lengthAdjust="spacingAndGlyphs">2%</text>
<line x1="688.15" y1="307.5" x2="688.15" y2="333.3" stroke="#1a1a1a" stroke-width="1"/>
<path d="M688.15 333.3 L686.45 324 L689.85 324 Z" fill="#111"/>
<text x="681.4" y="415.2" font-size="12.7" text-anchor="middle" fill="#1a1a1a" transform="rotate(-90 681.4 415.2)" textLength="14.8" lengthAdjust="spacingAndGlyphs">2%</text>
<line x1="688.15" y1="403" x2="688.15" y2="428.8" stroke="#1a1a1a" stroke-width="1"/>
<path d="M688.15 403 L686.55 412.3 L689.75 412.3 Z" fill="#111"/>
<text x="424" y="203.2" font-size="12.7" text-anchor="middle" fill="#1a1a1a" textLength="14.8" lengthAdjust="spacingAndGlyphs">2%</text>
<line x1="410.7" y1="209" x2="436.7" y2="209" stroke="#1a1a1a" stroke-width="1"/>
<path d="M436.7 209 L427.4 207.4 L427.4 210.6 Z" fill="#111"/>
<text x="952.5" y="203.2" font-size="12.7" text-anchor="middle" fill="#1a1a1a" textLength="14.8" lengthAdjust="spacingAndGlyphs">2%</text>
<line x1="939.5" y1="208.6" x2="965.5" y2="208.6" stroke="#1a1a1a" stroke-width="1"/>
<path d="M939.5 208.6 L948.8 207 L948.8 210.2 Z" fill="#111"/>
<text x="424" y="362.2" font-size="12.7" text-anchor="middle" fill="#1a1a1a" textLength="14.8" lengthAdjust="spacingAndGlyphs">2%</text>
<line x1="410.7" y1="368" x2="436.7" y2="368" stroke="#1a1a1a" stroke-width="1"/>
<path d="M436.7 368 L427.4 366.4 L427.4 369.6 Z" fill="#111"/>
<text x="952.5" y="362.2" font-size="12.7" text-anchor="middle" fill="#1a1a1a" textLength="14.8" lengthAdjust="spacingAndGlyphs">2%</text>
<line x1="939.5" y1="367.6" x2="965.5" y2="367.6" stroke="#1a1a1a" stroke-width="1"/>
<path d="M939.5 367.6 L948.8 366 L948.8 369.2 Z" fill="#111"/>
<line x1="395.97" y1="81.25" x2="463.29" y2="81.25" stroke="#1a1a1a" stroke-width="1.2"/>
<line x1="395.97" y1="81.25" x2="395.97" y2="121.46" stroke="#333" stroke-width="1.1"/>
<line x1="463.29" y1="81.25" x2="463.29" y2="121.46" stroke="#333" stroke-width="1.1"/>
<line x1="414.82" y1="81.25" x2="414.82" y2="125.5" stroke="#1a1a1a" stroke-width="1.2"/>
<line x1="444.44" y1="81.25" x2="444.44" y2="125.5" stroke="#1a1a1a" stroke-width="1.2"/>
<rect x="401.9" y="87.3" width="4" height="4" fill="#fff" stroke="#000" stroke-width="2"/>
<rect x="401.9" y="111.3" width="4" height="4" fill="#fff" stroke="#000" stroke-width="2"/>
<rect x="453.2" y="87.3" width="4" height="4" fill="#fff" stroke="#000" stroke-width="2"/>
<rect x="453.2" y="111.3" width="4" height="4" fill="#fff" stroke="#000" stroke-width="2"/>
<line x1="414.82" y1="121.46" x2="440.5" y2="106.8" stroke="#1a1a1a" stroke-width="1.2"/>
<line x1="342.5" y1="75.3" x2="406.6" y2="101.4" stroke="#1a1a1a" stroke-width="1"/>
<circle cx="406.6" cy="101.4" r="2.5" fill="#111" stroke="none" stroke-width="0"/>
<rect x="313.8" y="62" width="28.7" height="13.3" fill="#fff" stroke="#1a1a1a" stroke-width="1"/>
<text x="328.15" y="73" font-size="13" text-anchor="middle" fill="#1a1a1a" textLength="25.5" lengthAdjust="spacingAndGlyphs">0,000</text>
<line x1="395.97" y1="816.5" x2="463.29" y2="816.5" stroke="#1a1a1a" stroke-width="1.2"/>
<line x1="395.97" y1="776.44" x2="395.97" y2="816.5" stroke="#333" stroke-width="1.1"/>
<line x1="463.29" y1="776.44" x2="463.29" y2="816.5" stroke="#333" stroke-width="1.1"/>
<line x1="414.82" y1="772.4" x2="414.82" y2="816.5" stroke="#1a1a1a" stroke-width="1.2"/>
<line x1="444.44" y1="772.4" x2="444.44" y2="816.5" stroke="#1a1a1a" stroke-width="1.2"/>
<rect x="401.9" y="782.3" width="4" height="4" fill="#fff" stroke="#000" stroke-width="2"/>
<rect x="401.9" y="806.4" width="4" height="4" fill="#fff" stroke="#000" stroke-width="2"/>
<rect x="453.2" y="782.3" width="4" height="4" fill="#fff" stroke="#000" stroke-width="2"/>
<rect x="453.2" y="806.4" width="4" height="4" fill="#fff" stroke="#000" stroke-width="2"/>
<line x1="414.82" y1="776.44" x2="440.7" y2="791.2" stroke="#1a1a1a" stroke-width="1.2"/>
<line x1="342.5" y1="824.2" x2="406.7" y2="796.8" stroke="#1a1a1a" stroke-width="1"/>
<circle cx="406.7" cy="796.8" r="2.5" fill="#111" stroke="none" stroke-width="0"/>
<rect x="313.8" y="810.8" width="28.7" height="13.4" fill="#fff" stroke="#1a1a1a" stroke-width="1"/>
<text x="328.15" y="821.9" font-size="13" text-anchor="middle" fill="#1a1a1a" textLength="25.5" lengthAdjust="spacingAndGlyphs">0,000</text>
<rect x="676.3" y="655" width="28" height="13.7" fill="#fff" stroke="#1a1a1a" stroke-width="1"/>
<text x="690.3" y="666.4" font-size="13" text-anchor="middle" fill="#1a1a1a" textLength="25.5" lengthAdjust="spacingAndGlyphs">0,000</text>
<line x1="357.96" y1="5.8" x2="1018.34" y2="5.8" stroke="#444" stroke-width="1"/>
<line x1="357.56" y1="9.2" x2="364.36" y2="2.4" stroke="#000" stroke-width="1.5"/>
<line x1="1011.94" y1="9.2" x2="1018.74" y2="2.4" stroke="#000" stroke-width="1.5"/>
<text x="687.65" y="3.8" font-size="9.4" text-anchor="middle" fill="#1a1a1a" textLength="20.75" lengthAdjust="spacingAndGlyphs">24300</text>
<line x1="360.96" y1="2.8" x2="360.96" y2="125.5" stroke="#000" stroke-width="1.5"/>
<line x1="1015.34" y1="2.8" x2="1015.34" y2="121.46" stroke="#444" stroke-width="1"/>
<line x1="357.96" y1="24.25" x2="497.26" y2="24.25" stroke="#444" stroke-width="1"/>
<line x1="357.56" y1="27.65" x2="364.36" y2="20.85" stroke="#000" stroke-width="1.5"/>
<line x1="411.42" y1="27.65" x2="418.22" y2="20.85" stroke="#000" stroke-width="1.5"/>
<line x1="441.04" y1="27.65" x2="447.84" y2="20.85" stroke="#000" stroke-width="1.5"/>
<line x1="490.86" y1="27.65" x2="497.66" y2="20.85" stroke="#000" stroke-width="1.5"/>
<text x="387.89" y="22.05" font-size="9.4" text-anchor="middle" fill="#1a1a1a" textLength="16.6" lengthAdjust="spacingAndGlyphs">2000</text>
<text x="429.63" y="22.05" font-size="9.4" text-anchor="middle" fill="#1a1a1a" textLength="16.6" lengthAdjust="spacingAndGlyphs">1100</text>
<text x="469.35" y="22.05" font-size="9.4" text-anchor="middle" fill="#1a1a1a" textLength="16.6" lengthAdjust="spacingAndGlyphs">1850</text>
<line x1="414.82" y1="21.25" x2="414.82" y2="81.25" stroke="#000" stroke-width="1.2"/>
<line x1="444.44" y1="21.25" x2="444.44" y2="81.25" stroke="#000" stroke-width="1.2"/>
<line x1="494.26" y1="21.25" x2="494.26" y2="125.5" stroke="#1a1a1a" stroke-width="1.2"/>
<line x1="392.97" y1="43.75" x2="417.82" y2="43.75" stroke="#444" stroke-width="1"/>
<line x1="441.44" y1="43.75" x2="466.29" y2="43.75" stroke="#444" stroke-width="1"/>
<line x1="392.57" y1="47.15" x2="399.37" y2="40.35" stroke="#000" stroke-width="1.5"/>
<line x1="411.42" y1="47.15" x2="418.22" y2="40.35" stroke="#000" stroke-width="1.5"/>
<line x1="441.04" y1="47.15" x2="447.84" y2="40.35" stroke="#000" stroke-width="1.5"/>
<line x1="459.89" y1="47.15" x2="466.69" y2="40.35" stroke="#000" stroke-width="1.5"/>
<line x1="395.97" y1="40.75" x2="395.97" y2="81.25" stroke="#444" stroke-width="1"/>
<line x1="463.29" y1="40.75" x2="463.29" y2="81.25" stroke="#444" stroke-width="1"/>
<text x="405.6" y="42.05" font-size="9.4" text-anchor="middle" fill="#1a1a1a" textLength="12.45" lengthAdjust="spacingAndGlyphs">700</text>
<text x="454" y="42.05" font-size="9.4" text-anchor="middle" fill="#1a1a1a" textLength="12.45" lengthAdjust="spacingAndGlyphs">700</text>
<line x1="392.97" y1="854.25" x2="417.82" y2="854.25" stroke="#444" stroke-width="1"/>
<line x1="441.44" y1="854.25" x2="466.29" y2="854.25" stroke="#444" stroke-width="1"/>
<line x1="392.57" y1="857.65" x2="399.37" y2="850.85" stroke="#000" stroke-width="1.5"/>
<line x1="411.42" y1="857.65" x2="418.22" y2="850.85" stroke="#000" stroke-width="1.5"/>
<line x1="441.04" y1="857.65" x2="447.84" y2="850.85" stroke="#000" stroke-width="1.5"/>
<line x1="459.89" y1="857.65" x2="466.69" y2="850.85" stroke="#000" stroke-width="1.5"/>
<line x1="395.97" y1="818.1" x2="395.97" y2="857.25" stroke="#444" stroke-width="1"/>
<line x1="463.29" y1="818.1" x2="463.29" y2="857.25" stroke="#444" stroke-width="1"/>
<text x="405.6" y="852.55" font-size="9.4" text-anchor="middle" fill="#1a1a1a" textLength="12.45" lengthAdjust="spacingAndGlyphs">700</text>
<text x="454" y="852.55" font-size="9.4" text-anchor="middle" fill="#1a1a1a" textLength="12.45" lengthAdjust="spacingAndGlyphs">700</text>
<line x1="357.96" y1="873.6" x2="497.26" y2="873.6" stroke="#444" stroke-width="1"/>
<line x1="357.56" y1="877" x2="364.36" y2="870.2" stroke="#000" stroke-width="1.5"/>
<line x1="411.42" y1="877" x2="418.22" y2="870.2" stroke="#000" stroke-width="1.5"/>
<line x1="441.04" y1="877" x2="447.84" y2="870.2" stroke="#000" stroke-width="1.5"/>
<line x1="490.86" y1="877" x2="497.66" y2="870.2" stroke="#000" stroke-width="1.5"/>
<line x1="414.82" y1="816.5" x2="414.82" y2="876.6" stroke="#000" stroke-width="1.2"/>
<line x1="444.44" y1="816.5" x2="444.44" y2="876.6" stroke="#000" stroke-width="1.2"/>
<text x="387.89" y="871.4" font-size="9.4" text-anchor="middle" fill="#1a1a1a" textLength="16.6" lengthAdjust="spacingAndGlyphs">2000</text>
<text x="429.63" y="871.4" font-size="9.4" text-anchor="middle" fill="#1a1a1a" textLength="16.6" lengthAdjust="spacingAndGlyphs">1100</text>
<text x="469.35" y="871.4" font-size="9.4" text-anchor="middle" fill="#1a1a1a" textLength="16.6" lengthAdjust="spacingAndGlyphs">1850</text>
<line x1="338" y1="891.9" x2="1037.5" y2="891.9" stroke="#444" stroke-width="1"/>
<line x1="357.56" y1="895.3" x2="364.36" y2="888.5" stroke="#000" stroke-width="1.5"/>
<line x1="361.6" y1="895.3" x2="368.4" y2="888.5" stroke="#000" stroke-width="1.5"/>
<line x1="490.86" y1="895.3" x2="497.66" y2="888.5" stroke="#000" stroke-width="1.5"/>
<line x1="620.12" y1="895.3" x2="626.92" y2="888.5" stroke="#000" stroke-width="1.5"/>
<line x1="749.38" y1="895.3" x2="756.18" y2="888.5" stroke="#000" stroke-width="1.5"/>
<line x1="878.64" y1="895.3" x2="885.44" y2="888.5" stroke="#000" stroke-width="1.5"/>
<line x1="1007.9" y1="895.3" x2="1014.7" y2="888.5" stroke="#000" stroke-width="1.5"/>
<line x1="1011.94" y1="895.3" x2="1018.74" y2="888.5" stroke="#000" stroke-width="1.5"/>
<text x="429.63" y="889.7" font-size="9.4" text-anchor="middle" fill="#1a1a1a" textLength="16.6" lengthAdjust="spacingAndGlyphs">4800</text>
<text x="558.89" y="889.7" font-size="9.4" text-anchor="middle" fill="#1a1a1a" textLength="16.6" lengthAdjust="spacingAndGlyphs">4800</text>
<text x="688.15" y="889.7" font-size="9.4" text-anchor="middle" fill="#1a1a1a" textLength="16.6" lengthAdjust="spacingAndGlyphs">4800</text>
<text x="817.41" y="889.7" font-size="9.4" text-anchor="middle" fill="#1a1a1a" textLength="16.6" lengthAdjust="spacingAndGlyphs">4800</text>
<text x="946.67" y="889.7" font-size="9.4" text-anchor="middle" fill="#1a1a1a" textLength="16.6" lengthAdjust="spacingAndGlyphs">4800</text>
<text x="346.7" y="889.7" font-size="9.4" text-anchor="middle" fill="#1a1a1a" textLength="12.45" lengthAdjust="spacingAndGlyphs">150</text>
<text x="1030" y="889.7" font-size="9.4" text-anchor="middle" fill="#1a1a1a" textLength="12.45" lengthAdjust="spacingAndGlyphs">150</text>
<line x1="360.96" y1="776.44" x2="360.96" y2="876.6" stroke="#111" stroke-width="1.3"/>
<line x1="360.96" y1="876.6" x2="360.96" y2="900" stroke="#555" stroke-width="1"/>
<line x1="365" y1="772.4" x2="365" y2="900" stroke="#000" stroke-width="1.7"/>
<line x1="494.26" y1="776.44" x2="494.26" y2="900" stroke="#000" stroke-width="1.5"/>
<line x1="623.52" y1="776.44" x2="623.52" y2="900" stroke="#000" stroke-width="1.5"/>
<line x1="752.78" y1="776.44" x2="752.78" y2="900" stroke="#000" stroke-width="1.5"/>
<line x1="882.04" y1="776.44" x2="882.04" y2="900" stroke="#000" stroke-width="1.5"/>
<line x1="1011.3" y1="776.44" x2="1011.3" y2="900" stroke="#000" stroke-width="1.5"/>
<line x1="1015.34" y1="776.44" x2="1015.34" y2="900" stroke="#555" stroke-width="1"/>
<line x1="1072" y1="118.46" x2="1072" y2="779.44" stroke="#444" stroke-width="1"/>
<line x1="1068.6" y1="118.06" x2="1075.4" y2="124.86" stroke="#000" stroke-width="1.5"/>
<line x1="1068.6" y1="773.04" x2="1075.4" y2="779.84" stroke="#000" stroke-width="1.5"/>
<line x1="1015.34" y1="121.46" x2="1075" y2="121.46" stroke="#444" stroke-width="1"/>
<line x1="1015.34" y1="776.44" x2="1075" y2="776.44" stroke="#444" stroke-width="1"/>
<text x="1070.3" y="449.3" font-size="9.4" text-anchor="middle" fill="#1a1a1a" transform="rotate(-90 1070.3 449.3)" textLength="20.75" lengthAdjust="spacingAndGlyphs">24300</text>
<line x1="794.5" y1="122.5" x2="794.5" y2="775.4" stroke="#444" stroke-width="1"/>
<line x1="791.1" y1="122.1" x2="797.9" y2="128.9" stroke="#000" stroke-width="1.5"/>
<line x1="791.1" y1="159.84" x2="797.9" y2="166.64" stroke="#000" stroke-width="1.5"/>
<line x1="791.1" y1="246.09" x2="797.9" y2="252.89" stroke="#000" stroke-width="1.5"/>
<line x1="791.1" y1="321.56" x2="797.9" y2="328.36" stroke="#000" stroke-width="1.5"/>
<line x1="791.1" y1="407.81" x2="797.9" y2="414.61" stroke="#000" stroke-width="1.5"/>
<line x1="791.1" y1="439.35" x2="797.9" y2="446.15" stroke="#000" stroke-width="1.5"/>
<line x1="791.1" y1="441.5" x2="797.9" y2="448.3" stroke="#000" stroke-width="1.5"/>
<line x1="791.1" y1="483.28" x2="797.9" y2="490.08" stroke="#000" stroke-width="1.5"/>
<line x1="791.1" y1="515.63" x2="797.9" y2="522.43" stroke="#000" stroke-width="1.5"/>
<line x1="791.1" y1="537.19" x2="797.9" y2="543.99" stroke="#000" stroke-width="1.5"/>
<line x1="791.1" y1="569.54" x2="797.9" y2="576.34" stroke="#000" stroke-width="1.5"/>
<line x1="791.1" y1="645.01" x2="797.9" y2="651.81" stroke="#000" stroke-width="1.5"/>
<line x1="791.1" y1="731.26" x2="797.9" y2="738.06" stroke="#000" stroke-width="1.5"/>
<line x1="791.1" y1="769" x2="797.9" y2="775.8" stroke="#000" stroke-width="1.5"/>
<text x="791.8" y="144.37" font-size="9.4" text-anchor="middle" fill="#1a1a1a" transform="rotate(-90 791.8 144.37)" textLength="16.6" lengthAdjust="spacingAndGlyphs">1400</text>
<text x="791.8" y="206.36" font-size="9.4" text-anchor="middle" fill="#1a1a1a" transform="rotate(-90 791.8 206.36)" textLength="16.6" lengthAdjust="spacingAndGlyphs">3200</text>
<text x="791.8" y="274.3" font-size="9.4" text-anchor="middle" fill="#1a1a1a" transform="rotate(-90 791.8 274.3)" textLength="16.6" lengthAdjust="spacingAndGlyphs">2800</text>
<text x="791.8" y="368.09" font-size="9.4" text-anchor="middle" fill="#1a1a1a" transform="rotate(-90 791.8 368.09)" textLength="16.6" lengthAdjust="spacingAndGlyphs">3200</text>
<text x="791.8" y="426.98" font-size="9.4" text-anchor="middle" fill="#1a1a1a" transform="rotate(-90 791.8 426.98)" textLength="16.6" lengthAdjust="spacingAndGlyphs">1170</text>
<text x="791.8" y="450.5" font-size="9.4" text-anchor="middle" fill="#1a1a1a" transform="rotate(-90 791.8 450.5)" textLength="8.3" lengthAdjust="spacingAndGlyphs">80</text>
<text x="791.8" y="469.6" font-size="9.4" text-anchor="middle" fill="#1a1a1a" transform="rotate(-90 791.8 469.6)" textLength="16.6" lengthAdjust="spacingAndGlyphs">1550</text>
<text x="791.8" y="502.86" font-size="9.4" text-anchor="middle" fill="#1a1a1a" transform="rotate(-90 791.8 502.86)" textLength="16.6" lengthAdjust="spacingAndGlyphs">1200</text>
<text x="791.8" y="529.81" font-size="9.4" text-anchor="middle" fill="#1a1a1a" transform="rotate(-90 791.8 529.81)" textLength="12.45" lengthAdjust="spacingAndGlyphs">800</text>
<text x="791.8" y="556.76" font-size="9.4" text-anchor="middle" fill="#1a1a1a" transform="rotate(-90 791.8 556.76)" textLength="16.6" lengthAdjust="spacingAndGlyphs">1200</text>
<text x="791.8" y="610.67" font-size="9.4" text-anchor="middle" fill="#1a1a1a" transform="rotate(-90 791.8 610.67)" textLength="16.6" lengthAdjust="spacingAndGlyphs">2800</text>
<text x="791.8" y="691.53" font-size="9.4" text-anchor="middle" fill="#1a1a1a" transform="rotate(-90 791.8 691.53)" textLength="16.6" lengthAdjust="spacingAndGlyphs">3200</text>
<text x="791.8" y="753.53" font-size="9.4" text-anchor="middle" fill="#1a1a1a" transform="rotate(-90 791.8 753.53)" textLength="16.6" lengthAdjust="spacingAndGlyphs">1400</text>
<line x1="794.5" y1="163.24" x2="836.62" y2="163.24" stroke="#000" stroke-width="1.3"/>
<line x1="794.5" y1="249.49" x2="836.62" y2="249.49" stroke="#000" stroke-width="1.3"/>
<rect x="832.22" y="163.84" width="4.4" height="85.05" fill="#fff" stroke="none" stroke-width="0"/>
<line x1="832.22" y1="163.24" x2="832.22" y2="249.49" stroke="#444" stroke-width="1"/>
<line x1="836.62" y1="163.24" x2="836.62" y2="249.49" stroke="#222" stroke-width="1.4"/>
<line x1="794.5" y1="324.96" x2="836.62" y2="324.96" stroke="#000" stroke-width="1.3"/>
<line x1="794.5" y1="411.21" x2="836.62" y2="411.21" stroke="#000" stroke-width="1.3"/>
<rect x="832.22" y="325.56" width="4.4" height="85.05" fill="#fff" stroke="none" stroke-width="0"/>
<line x1="832.22" y1="324.96" x2="832.22" y2="411.21" stroke="#444" stroke-width="1"/>
<line x1="836.62" y1="324.96" x2="836.62" y2="411.21" stroke="#222" stroke-width="1.4"/>
<line x1="794.5" y1="486.68" x2="836.62" y2="486.68" stroke="#000" stroke-width="1.3"/>
<line x1="794.5" y1="572.94" x2="836.62" y2="572.94" stroke="#000" stroke-width="1.3"/>
<rect x="832.22" y="487.28" width="4.4" height="31.14" fill="#fff" stroke="none" stroke-width="0"/>
<line x1="832.22" y1="486.68" x2="832.22" y2="519.03" stroke="#444" stroke-width="1"/>
<line x1="836.62" y1="486.68" x2="836.62" y2="519.03" stroke="#222" stroke-width="1.4"/>
<rect x="832.22" y="541.19" width="4.4" height="31.14" fill="#fff" stroke="none" stroke-width="0"/>
<line x1="832.22" y1="540.59" x2="832.22" y2="572.94" stroke="#444" stroke-width="1"/>
<line x1="836.62" y1="540.59" x2="836.62" y2="572.94" stroke="#222" stroke-width="1.4"/>
<line x1="794.5" y1="648.41" x2="836.62" y2="648.41" stroke="#000" stroke-width="1.3"/>
<line x1="794.5" y1="734.66" x2="836.62" y2="734.66" stroke="#000" stroke-width="1.3"/>
<rect x="832.22" y="649.01" width="4.4" height="85.05" fill="#fff" stroke="none" stroke-width="0"/>
<line x1="832.22" y1="648.41" x2="832.22" y2="734.66" stroke="#444" stroke-width="1"/>
<line x1="836.62" y1="648.41" x2="836.62" y2="734.66" stroke="#222" stroke-width="1.4"/>
<rect x="452.52" y="519.03" width="504.92" height="21.56" fill="none" stroke="#1a1a1a" stroke-width="1.2"/>
<line x1="910.31" y1="519.03" x2="910.31" y2="540.59" stroke="#1a1a1a" stroke-width="1.1"/>
<line x1="917.04" y1="519.03" x2="917.04" y2="540.59" stroke="#1a1a1a" stroke-width="1.1"/>
<line x1="923.78" y1="519.03" x2="923.78" y2="540.59" stroke="#1a1a1a" stroke-width="1.1"/>
<line x1="930.51" y1="519.03" x2="930.51" y2="540.59" stroke="#1a1a1a" stroke-width="1.1"/>
<line x1="937.24" y1="519.03" x2="937.24" y2="540.59" stroke="#1a1a1a" stroke-width="1.1"/>
<line x1="943.97" y1="519.03" x2="943.97" y2="540.59" stroke="#1a1a1a" stroke-width="1.1"/>
<line x1="950.71" y1="519.03" x2="950.71" y2="540.59" stroke="#1a1a1a" stroke-width="1.1"/>
<line x1="957.44" y1="519.03" x2="957.44" y2="540.59" stroke="#1a1a1a" stroke-width="1.1"/>
<line x1="910.31" y1="529.81" x2="956.44" y2="529.81" stroke="#1a1a1a" stroke-width="1"/>
<path d="M951.94 527.21 L956.44 529.81 L951.94 532.41" fill="none" stroke="#222" stroke-width="1"/>
<circle cx="910.31" cy="529.81" r="2.2" fill="#fff" stroke="#000" stroke-width="1"/>
<rect x="673" y="522.5" width="31.3" height="13" fill="#fff" stroke="#1a1a1a" stroke-width="1"/>
<text x="688.65" y="533.2" font-size="13" text-anchor="middle" fill="#1a1a1a" textLength="29.6" lengthAdjust="spacingAndGlyphs">-1,600</text>
<line x1="362" y1="567.3" x2="1014.3" y2="567.3" stroke="#444" stroke-width="1"/>
<line x1="361.6" y1="570.7" x2="368.4" y2="563.9" stroke="#000" stroke-width="1.5"/>
<line x1="449.12" y1="570.7" x2="455.92" y2="563.9" stroke="#000" stroke-width="1.5"/>
<line x1="828.82" y1="570.7" x2="835.62" y2="563.9" stroke="#000" stroke-width="1.5"/>
<line x1="833.22" y1="570.7" x2="840.02" y2="563.9" stroke="#000" stroke-width="1.5"/>
<line x1="906.91" y1="570.7" x2="913.71" y2="563.9" stroke="#000" stroke-width="1.5"/>
<line x1="954.04" y1="570.7" x2="960.84" y2="563.9" stroke="#000" stroke-width="1.5"/>
<line x1="1007.9" y1="570.7" x2="1014.7" y2="563.9" stroke="#000" stroke-width="1.5"/>
<line x1="452.52" y1="540.59" x2="452.52" y2="570.3" stroke="#000" stroke-width="1.4"/>
<line x1="910.31" y1="540.59" x2="910.31" y2="570.3" stroke="#1a1a1a" stroke-width="1.2"/>
<line x1="957.44" y1="540.59" x2="957.44" y2="570.3" stroke="#1a1a1a" stroke-width="1.2"/>
<text x="408.76" y="565.1" font-size="9.4" text-anchor="middle" fill="#1a1a1a" textLength="16.6" lengthAdjust="spacingAndGlyphs">3250</text>
<text x="641.8" y="565.1" font-size="9.4" text-anchor="middle" fill="#1a1a1a" textLength="20.75" lengthAdjust="spacingAndGlyphs">14100</text>
<text x="818" y="565.1" font-size="9.4" text-anchor="middle" fill="#1a1a1a" textLength="12.45" lengthAdjust="spacingAndGlyphs">150</text>
<text x="873.47" y="565.1" font-size="9.4" text-anchor="middle" fill="#1a1a1a" textLength="16.6" lengthAdjust="spacingAndGlyphs">2750</text>
<text x="933.88" y="565.6" font-size="9.4" text-anchor="middle" fill="#1a1a1a" textLength="42" lengthAdjust="spacingAndGlyphs">7x250=1750</text>
<text x="984.37" y="565.1" font-size="9.4" text-anchor="middle" fill="#1a1a1a" textLength="16.6" lengthAdjust="spacingAndGlyphs">2000</text>
<line x1="643.8" y1="507" x2="603" y2="530" stroke="#1a1a1a" stroke-width="1"/>
<circle cx="603" cy="530" r="3" fill="#111" stroke="none" stroke-width="0"/>
<line x1="643.8" y1="507" x2="722.5" y2="507" stroke="#1a1a1a" stroke-width="1"/>
<text x="645.5" y="505" font-size="12" text-anchor="start" fill="#1a1a1a" textLength="77" lengthAdjust="spacingAndGlyphs">Смотровая яма</text>
<line x1="630" y1="348.3" x2="664" y2="348.3" stroke="#1a1a1a" stroke-width="1"/>
<line x1="664" y1="348.3" x2="682.5" y2="360" stroke="#1a1a1a" stroke-width="1"/>
<text x="630" y="346" font-size="12" text-anchor="start" fill="#1a1a1a" textLength="33.8" lengthAdjust="spacingAndGlyphs">Кессон</text>
<line x1="837.12" y1="691.6" x2="851.5" y2="718.7" stroke="#1a1a1a" stroke-width="1"/>
<line x1="851.5" y1="718.7" x2="933.8" y2="718.7" stroke="#1a1a1a" stroke-width="1"/>
<text x="852.6" y="716.5" font-size="12" text-anchor="start" fill="#1a1a1a" textLength="81.2" lengthAdjust="spacingAndGlyphs">Колесоотбойник</text>
<line x1="542" y1="800" x2="612" y2="800" stroke="#1a1a1a" stroke-width="1"/>
<line x1="612" y1="800" x2="666" y2="767.9" stroke="#1a1a1a" stroke-width="1"/>
<text x="542" y="798" font-size="12" text-anchor="start" fill="#1a1a1a" textLength="70" lengthAdjust="spacingAndGlyphs">Вертикальная</text>
<text x="562" y="814.5" font-size="12" text-anchor="start" fill="#1a1a1a" textLength="29.3" lengthAdjust="spacingAndGlyphs">связь</text>
<text x="670.5" y="81.5" font-size="12.2" text-anchor="middle" fill="#1a1a1a">1</text>
<line x1="665.25" y1="89" x2="688.25" y2="89" stroke="#1a1a1a" stroke-width="1"/>
<path d="M688.25 89 L678.95 87.4 L678.95 90.6 Z" fill="#111"/>
<line x1="688.25" y1="80.75" x2="688.25" y2="89" stroke="#000" stroke-width="1.7"/>
<line x1="688.25" y1="88.75" x2="688.25" y2="107.75" stroke="#555" stroke-width="1.2"/>
<text x="670.5" y="821.75" font-size="12.2" text-anchor="middle" fill="#1a1a1a">1</text>
<line x1="665.25" y1="808.5" x2="688.25" y2="808.5" stroke="#1a1a1a" stroke-width="1"/>
<path d="M688.25 808.5 L678.95 806.9 L678.95 810.1 Z" fill="#111"/>
<line x1="688.25" y1="789.25" x2="688.25" y2="797.5" stroke="#000" stroke-width="1.7"/>
<line x1="688.25" y1="797.5" x2="688.25" y2="816.75" stroke="#555" stroke-width="1.2"/>
</svg>
</body>
</html>
